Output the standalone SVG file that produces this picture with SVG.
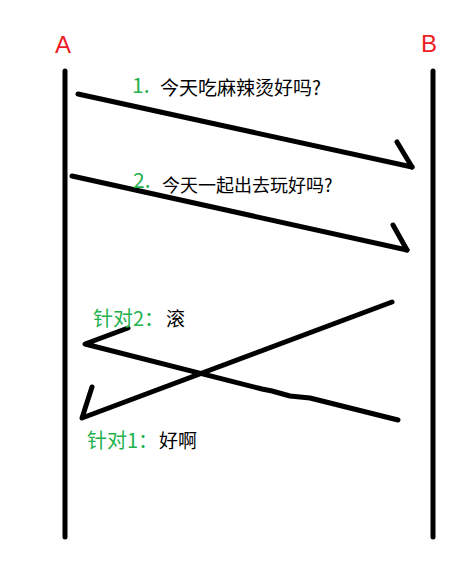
<svg xmlns="http://www.w3.org/2000/svg" width="476" height="567" viewBox="0 0 476 567">
<style>
.life{stroke:#000;stroke-width:5;stroke-linecap:round;fill:none}
.msg{stroke:#000;stroke-width:5;stroke-linecap:round;stroke-linejoin:round;fill:none}
.lbl{font-family:"Liberation Sans",Arial,sans-serif;font-size:24px;fill:#ed1c24}
.t{font-family:"Microsoft YaHei","Noto Sans CJK SC",sans-serif;fill:#000}
.g{fill:#22b14c}
</style>
<rect width="476" height="567" fill="#fff"/>
<g id="A">
<text class="lbl" x="55" y="53">A</text>
<line class="life" x1="65" y1="71" x2="65" y2="537"/>
</g>
<g id="B">
<text class="lbl" x="421" y="52">B</text>
<line class="life" x1="433" y1="71" x2="433" y2="537"/>
</g>
<g id="connectors">
<polyline class="msg" points="78,94 412,167"/>
<polyline class="msg" points="397,142 412,167"/>
<polyline class="msg" points="72,176 407,250"/>
<polyline class="msg" points="393,225 407,250"/>
<polyline class="msg" points="398,420 310,398 290,396 272,391 262,389 85,344 128,328"/>
<polyline class="msg" points="392,302 82,418 92,387"/>
</g>
<g id="label1">
<text class="t g" x="132" y="93" font-size="21">1.</text>
<text class="t" x="160" y="95" font-size="19">今天吃麻辣烫好吗?</text>
</g>
<g id="label2">
<text class="t g" x="133" y="188" font-size="21">2.</text>
<text class="t" x="162" y="192" font-size="18">今天一起出去玩好吗?</text>
</g>
<g id="label3">
<text class="t g" x="93" y="326" font-size="20">针对2：</text>
<text class="t" x="166" y="326" font-size="19">滚</text>
</g>
<g id="label4">
<text class="t g" x="87" y="448" font-size="20">针对1：</text>
<text class="t" x="159" y="448" font-size="19">好啊</text>
</g>
</svg>
